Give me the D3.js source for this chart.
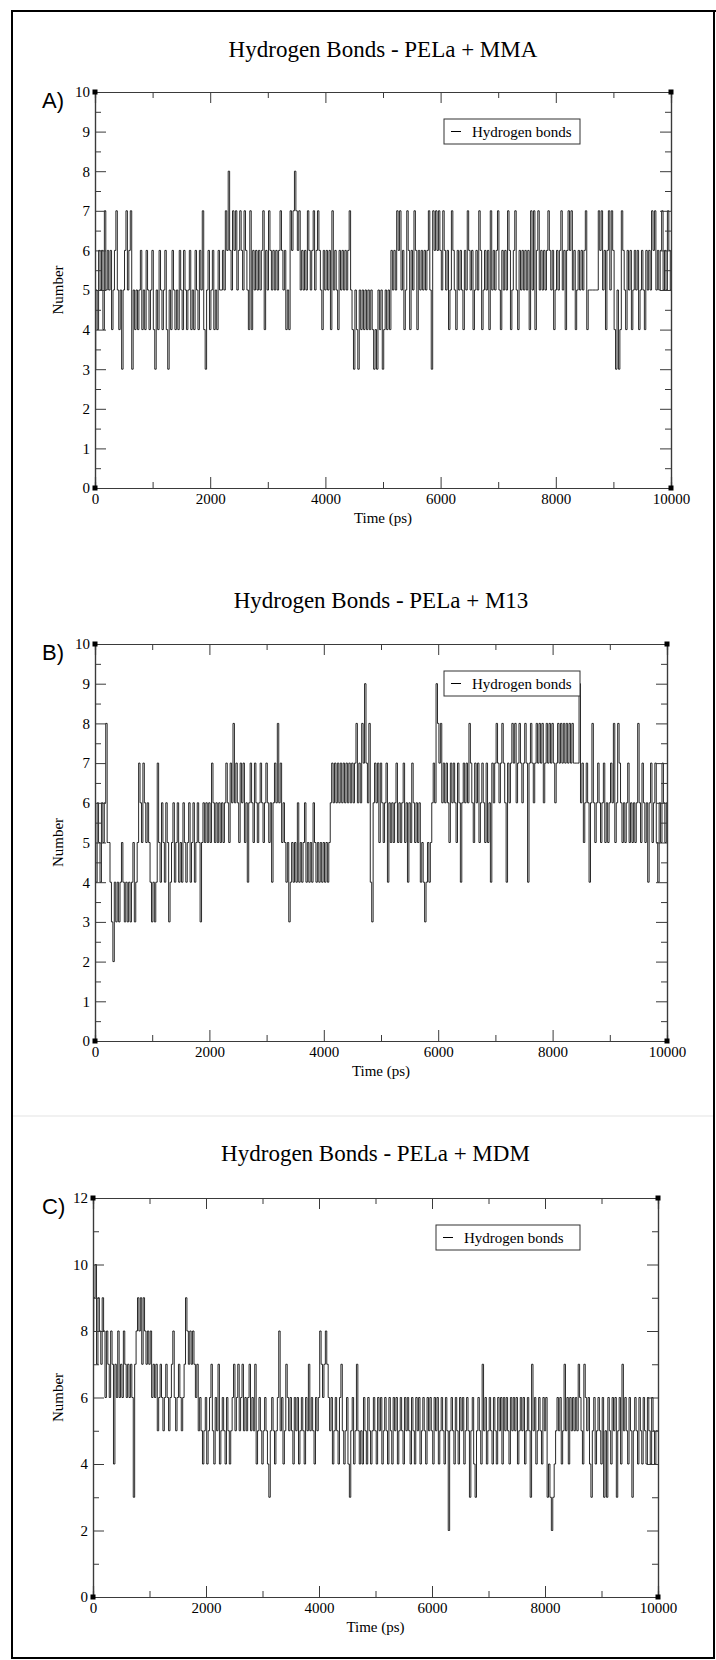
<!DOCTYPE html>
<html>
<head>
<meta charset="utf-8">
<script src="https://cdn.jsdelivr.net/npm/d3@7"></script>
<style>
  body { margin: 0; background: #fff; }
  svg { display: block; }
</style>
</head>
<body>
<div id="chart"></div>
<script>
// sampling step of the traces (ps)
const timeStep = 25;

// hydrogen bond counts, one value every 25 ps from 0 to 10000 ps
const mmaBonds = [
  3,5,4,6,5,6,4,7,5,6, 5,6,4,5,6,7,5,4,5,3, 5,6,7,5,6,7,3,5,4,5, 4,5,6,4,5,4,6,5,4,5,
  6,4,3,5,4,6,5,4,5,6, 4,3,5,4,6,5,4,5,4,6, 5,4,6,5,4,5,6,4,5,4, 6,5,4,6,5,7,4,3,5,6,
  4,5,6,4,5,4,6,5,5,6, 5,7,6,8,6,5,7,6,7,5, 6,7,6,5,7,6,5,4,7,4, 6,5,6,5,6,5,6,7,4,6,
  5,7,6,5,6,5,6,5,6,7, 6,5,6,4,5,4,7,6,7,8, 7,6,7,5,6,5,6,5,7,6, 5,6,7,5,6,7,6,5,4,6,
  5,6,5,6,4,7,5,6,5,4, 6,5,6,5,6,5,6,7,5,4, 3,5,4,3,5,4,5,4,5,4, 5,4,5,4,3,4,3,5,4,5,
  3,4,5,4,5,4,6,5,6,5, 7,6,7,5,6,4,5,7,6,4, 6,5,7,6,4,6,5,6,5,6, 5,6,7,5,3,7,6,7,6,7,
  6,5,7,6,5,6,4,5,7,6, 5,4,6,5,6,5,4,6,5,7, 6,5,6,4,5,6,5,7,6,4, 5,6,5,6,4,7,5,6,5,6,
  7,5,4,6,5,6,5,7,6,4, 5,6,7,5,4,6,5,6,5,6, 5,6,4,7,5,7,4,6,7,5, 6,5,6,5,6,7,6,5,6,4,
  5,6,5,6,7,5,6,4,6,7, 6,7,5,6,4,5,6,5,6,5, 6,7,4,5,5,5,5,5,5,5, 7,6,7,5,6,4,6,7,5,7,
  6,4,3,5,3,4,7,6,5,4, 6,5,6,4,5,6,5,6,4,5, 6,5,4,6,5,6,5,7,6,7, 5,6,5,6,7,5,6,5,7,6,
  5
];
const m13Bonds = [
  5,4,6,5,4,6,5,6,8,5, 5,4,3,2,4,3,4,3,4,5, 4,3,4,3,4,3,4,5,3,4, 5,7,6,5,7,6,5,6,5,4,
  3,4,3,4,7,5,4,6,5,4, 6,5,3,4,5,6,4,5,6,4, 5,4,6,5,4,5,6,4,5,6, 4,5,6,5,3,5,6,5,6,5,
  6,5,7,6,5,6,5,6,5,6, 5,6,7,6,5,7,6,8,6,7, 6,5,7,6,7,5,6,4,6,7, 6,5,7,6,5,6,7,6,5,6,
  7,6,5,6,4,6,7,6,8,6, 7,5,6,5,4,5,3,4,5,4, 5,4,6,4,5,4,5,6,4,5, 4,5,4,6,5,4,5,4,5,4,
  5,4,5,4,5,6,7,6,7,6, 7,6,7,6,7,6,7,6,7,6, 7,6,7,8,6,7,6,8,7,9, 7,6,8,4,3,6,7,6,7,5,
  7,6,5,6,7,4,6,5,6,5, 6,7,5,6,5,6,7,5,6,4, 6,5,7,6,5,6,5,6,4,5, 4,3,4,5,4,5,6,7,6,9,
  8,7,8,6,7,6,7,6,5,7, 6,7,6,5,7,6,4,6,7,6, 7,6,8,7,6,5,7,6,7,5, 6,7,6,5,7,5,6,4,7,6,
  7,8,7,6,7,8,7,6,4,7, 6,7,8,7,8,6,7,8,7,6, 7,8,7,4,7,8,7,6,7,8, 7,8,7,8,6,7,8,7,8,7,
  8,7,6,7,8,7,8,7,8,7, 8,7,8,7,8,7,7,7,7,9, 6,7,5,6,7,6,4,6,8,6, 5,6,7,6,5,6,7,5,6,5,
  6,7,6,8,5,6,8,7,6,5, 6,5,6,7,5,6,5,6,5,6, 8,6,5,7,6,5,6,4,6,7, 5,6,7,5,4,6,5,7,6,5,
  6
];
const mdmBonds = [
  8,9,10,7,9,8,7,9,8,6, 8,7,6,8,7,4,7,6,8,6, 7,6,8,7,6,7,6,7,6,3, 7,8,9,8,9,7,9,8,7,8,
  7,8,6,7,6,7,5,6,7,6, 5,6,7,6,5,6,7,8,6,5, 6,7,6,5,6,7,9,8,7,8, 7,8,7,6,7,5,6,5,4,5,
  6,4,5,6,7,5,4,6,5,7, 4,5,6,5,4,6,5,4,5,6, 7,5,6,7,5,6,7,5,6,5, 6,7,5,6,5,7,4,5,6,5,
  4,5,6,5,4,3,5,6,5,4, 5,6,8,5,6,4,5,7,6,5, 6,5,4,6,5,6,4,5,6,5, 4,6,5,7,5,6,5,4,6,5,
  6,8,7,6,7,8,7,6,5,6, 4,5,6,5,4,6,7,5,4,5, 6,4,3,5,6,4,5,7,5,4, 5,4,6,5,4,6,5,4,5,6,
  5,4,6,5,6,4,5,6,5,4, 6,5,4,6,5,6,4,5,6,5, 4,6,5,6,5,4,6,5,4,6, 5,6,4,5,6,5,4,6,5,6,
  5,4,6,5,6,4,5,6,5,4, 6,5,2,5,6,5,4,6,5,4, 6,5,6,4,5,6,5,3,5,6, 4,3,5,6,5,4,7,5,6,4,
  5,6,5,4,6,5,4,6,5,6, 4,6,5,6,5,4,6,5,6,5, 6,4,5,6,5,6,4,5,6,5, 3,7,5,6,4,5,6,5,4,6,
  5,6,3,4,3,2,3,4,5,6, 5,6,4,5,7,5,6,4,6,5, 6,5,6,5,7,6,5,4,7,6, 5,6,4,3,5,6,4,5,6,5,
  4,6,3,5,3,6,5,4,6,5, 6,3,5,6,4,7,5,6,5,4, 6,5,3,5,6,5,4,6,5,4, 6,5,4,6,5,4,6,5,4,5,
  5
];

const panelTitles = ["Hydrogen Bonds - PELa + MMA", "Hydrogen Bonds - PELa + M13", "Hydrogen Bonds - PELa + MDM"];
const panelLetters = ["A)", "B)", "C)"];
const xMajorTicks = [0, 2000, 4000, 6000, 8000, 10000];
const xMinorTicks = [1000, 3000, 5000, 7000, 9000];
const yMaxValues = [10, 10, 12];
const yMajorSteps = [1, 1, 2];
const legendLabel = "Hydrogen bonds";
const xLabel = "Time (ps)";
const yLabel = "Number";

const W = 716, H = 1660;
const serif = "'Liberation Serif', 'Times New Roman', serif";
const sans = "'Liberation Sans', Arial, sans-serif";
const axisColor = "#3a3a3a";

const svg = d3.select("#chart")
  .append("svg")
    .attr("width", W)
    .attr("height", H);

svg.append("rect")
  .attr("width", W).attr("height", H)
  .attr("fill", "#fff");

// outer border of the figure
svg.append("path")
  .attr("d", `M${W},11 H12 V${H - 2} H${W - 2} V11`)
  .attr("fill", "none")
  .attr("stroke", "#000")
  .attr("stroke-width", 2);

// faint separator between B and C
svg.append("line")
  .attr("x1", 13).attr("x2", W - 3)
  .attr("y1", 1116).attr("y2", 1116)
  .attr("stroke", "#e3e3e3")
  .attr("stroke-width", 1);

// plot frames (pixel boxes of each panel)
const frames = [
  {left: 95, right: 671, top: 92, bottom: 488, titleY: 57},
  {left: 95, right: 667, top: 644, bottom: 1041, titleY: 608},
  {left: 93, right: 658, top: 1198, bottom: 1597, titleY: 1161}
];
const series = [mmaBonds, m13Bonds, mdmBonds];

frames.forEach((f, k) => {
  const g = svg.append("g");
  const data = series[k];
  const ymax = yMaxValues[k];
  const step = yMajorSteps[k];

  const x = d3.scaleLinear().domain([0, 10000]).range([f.left, f.right]);
  const y = d3.scaleLinear().domain([0, ymax]).range([f.bottom, f.top]);

  const yMajor = d3.range(0, ymax + step / 2, step);
  const yMinor = d3.range(step / 2, ymax, step);

  // title
  g.append("text")
    .attr("x", (f.left + f.right) / 2)
    .attr("y", f.titleY)
    .attr("text-anchor", "middle")
    .attr("font-family", serif)
    .attr("font-size", 23)
    .text(panelTitles[k]);

  // panel letter
  g.append("text")
    .attr("x", 42)
    .attr("y", f.top + 16)
    .attr("font-family", sans)
    .attr("font-size", 22)
    .text(panelLetters[k]);

  // the trace, drawn as steps so transitions are vertical like the original
  const line = d3.line()
    .curve(d3.curveStep)
    .x((d, i) => x(i * timeStep))
    .y(d => y(d));

  g.append("path")
    .datum(data)
    .attr("fill", "none")
    .attr("stroke", "#111")
    .attr("stroke-width", 0.9)
    .attr("d", line);

  // axes: ticks point inward on all four sides
  const addAxis = (axis, tr, vals, size, labels) => {
    const a = g.append("g")
      .attr("transform", tr)
      .call(axis.tickValues(vals).tickSize(-size).tickPadding(5)
        .tickFormat(labels ? d3.format("d") : ""));
    a.select(".domain").attr("stroke", axisColor).attr("stroke-width", 1.2);
    a.selectAll(".tick line").attr("stroke", axisColor);
    a.selectAll("text")
      .attr("font-family", serif)
      .attr("font-size", 15)
      .attr("fill", "#000");
    return a;
  };

  addAxis(d3.axisBottom(x), `translate(0,${f.bottom})`, xMajorTicks, 11, true);
  addAxis(d3.axisBottom(x), `translate(0,${f.bottom})`, xMinorTicks, 6, false);
  addAxis(d3.axisTop(x), `translate(0,${f.top})`, xMajorTicks, 11, false);
  addAxis(d3.axisTop(x), `translate(0,${f.top})`, xMinorTicks, 6, false);
  addAxis(d3.axisLeft(y), `translate(${f.left},0)`, yMajor, 11, true);
  addAxis(d3.axisLeft(y), `translate(${f.left},0)`, yMinor, 6, false);
  addAxis(d3.axisRight(y), `translate(${f.right},0)`, yMajor, 11, false);
  addAxis(d3.axisRight(y), `translate(${f.right},0)`, yMinor, 6, false);

  // little corner squares
  [[f.left, f.top], [f.right, f.top], [f.left, f.bottom], [f.right, f.bottom]].forEach(c => {
    g.append("rect")
      .attr("x", c[0] - 2.5).attr("y", c[1] - 2.5)
      .attr("width", 5).attr("height", 5)
      .attr("fill", "#000");
  });

  // axis labels
  g.append("text")
    .attr("x", (f.left + f.right) / 2)
    .attr("y", f.bottom + 35)
    .attr("text-anchor", "middle")
    .attr("font-family", serif)
    .attr("font-size", 15)
    .text(xLabel);

  g.append("text")
    .attr("transform", `translate(63,${(f.top + f.bottom) / 2}) rotate(-90)`)
    .attr("text-anchor", "middle")
    .attr("font-family", serif)
    .attr("font-size", 15)
    .text(yLabel);

  // legend
  const lx = k === 2 ? 436 : 444, ly = f.top + 27;
  g.append("rect")
    .attr("x", lx).attr("y", ly)
    .attr("width", 580 - lx).attr("height", 25)
    .attr("fill", "#fff")
    .attr("stroke", "#333")
    .attr("stroke-width", 1);
  g.append("line")
    .attr("x1", lx + 7).attr("x2", lx + 17)
    .attr("y1", ly + 12.5).attr("y2", ly + 12.5)
    .attr("stroke", "#000");
  g.append("text")
    .attr("x", lx + 28)
    .attr("y", ly + 17.5)
    .attr("font-family", serif)
    .attr("font-size", 15)
    .text(legendLabel);
});
</script>
</body>
</html>
